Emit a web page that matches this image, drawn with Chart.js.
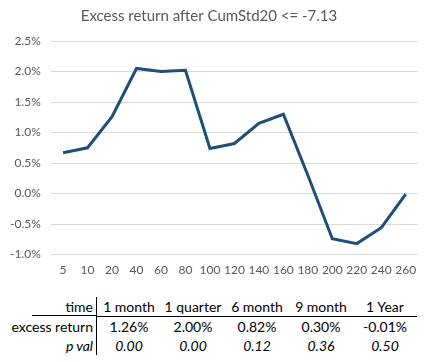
<!DOCTYPE html>
<html>
<head>
<meta charset="utf-8">
<script src="https://cdn.jsdelivr.net/npm/chart.js@4"></script>
<style>
    body { margin: 0; background: #fff; font-family: Lato, sans-serif; }
    #wrap { position: relative; width: 425px; height: 362px; }
    #chartBox { position: absolute; left: 0; top: 0; width: 425px; height: 285px; }
    #stats { position: absolute; left: 0; top: 297px; border-collapse: collapse; font-size: 14px; color: #000; }
    #stats td { padding: 0; height: 19px; text-align: center; width: 64px; }
    #stats td.lab { width: 93px; text-align: right; padding-right: 3px; border-right: 1px solid #000; }
    #stats tr.head td { border-bottom: 1px solid #000; height: 19px; }
    #stats tr.head td.lab {
        border-bottom: 1px solid transparent;
        background: linear-gradient(#000, #000) no-repeat right bottom / 64px 1px;
    }
    #stats tr.pv td { font-style: italic; }
</style>
</head>
<body>
<div id="wrap">
    <div id="chartBox"><canvas id="lineChart"></canvas></div>
    <table id="stats"></table>
</div>
<script>
const labels = ['5', '10', '20', '40', '60', '80', '100', '120', '140', '160', '180', '200', '220', '240', '260'];

// excess return in percent
const excessReturn = [0.67, 0.75, 1.26, 2.05, 2.00, 2.02, 0.74, 0.82, 1.15, 1.30, 0.30, -0.74, -0.82, -0.56, -0.01];

const tableTimes = ['1 month', '1 quarter', '6 month', '9 month', '1 Year'];
const tableReturns = ['1.26%', '2.00%', '0.82%', '0.30%', '-0.01%'];
const tablePvals = ['0.00', '0.00', '0.12', '0.36', '0.50'];

const data = {
    labels: labels,
    datasets: [{
        label: 'Excess return',
        data: excessReturn,
        borderColor: '#1f4e79',
        backgroundColor: '#1f4e79',
        borderWidth: 3,
        pointRadius: 0,
        tension: 0,
    }]
};

const config = {
    type: 'line',
    data: data,
    options: {
        responsive: true,
        maintainAspectRatio: false,
        animation: false,
        layout: {
            padding: { left: 0, right: 7, top: 0, bottom: 0 }
        },
        plugins: {
            legend: { display: false },
            tooltip: { enabled: false },
            title: {
                display: true,
                text: 'Excess return after CumStd20 <= -7.13',
                color: '#595959',
                font: { family: 'Lato', size: 15, weight: 'normal' },
                padding: { top: 7, bottom: 16 }
            }
        },
        scales: {
            x: {
                offset: true,
                grid: { display: false, drawTicks: false },
                border: { display: false },
                ticks: {
                    color: '#595959',
                    font: { family: 'Lato', size: 12 },
                    padding: 8,
                    maxRotation: 0,
                    autoSkip: false
                }
            },
            y: {
                min: -1,
                max: 2.5,
                grid: { color: '#d9d9d9', drawTicks: false },
                border: { display: false },
                ticks: {
                    stepSize: 0.5,
                    color: '#595959',
                    font: { family: 'Lato', size: 12 },
                    padding: 10,
                    callback: function (v) { return v.toFixed(1) + '%'; }
                }
            }
        }
    }
};

const lineChart = new Chart(document.getElementById('lineChart'), config);

// stats table under the chart
const table = document.getElementById('stats');
function addRow(cls, label, cells) {
    const tr = document.createElement('tr');
    tr.className = cls;
    const th = document.createElement('td');
    th.className = 'lab';
    th.textContent = label;
    tr.appendChild(th);
    cells.forEach(function (c) {
        const td = document.createElement('td');
        td.textContent = c;
        tr.appendChild(td);
    });
    table.appendChild(tr);
}
addRow('head', 'time', tableTimes);
addRow('ret', 'excess return', tableReturns);
addRow('pv', 'p val', tablePvals);
</script>
</body>
</html>
